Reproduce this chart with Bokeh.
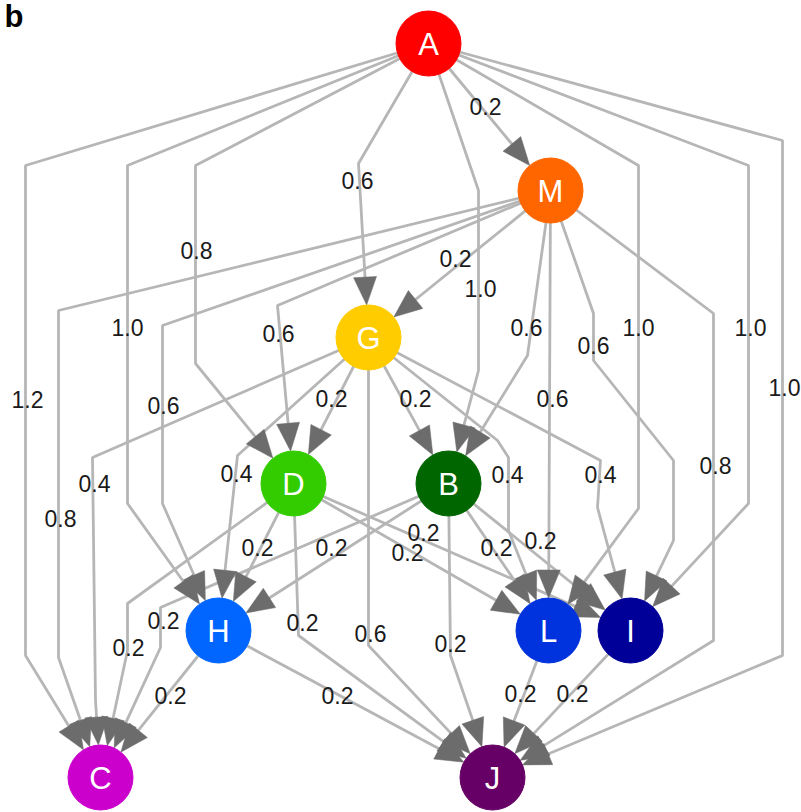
import math

from bokeh.core.properties import value
from bokeh.embed import file_html
from bokeh.models import ColumnDataSource, Range1d
from bokeh.plotting import figure
from bokeh.resources import INLINE

# ---- graph data -------------------------------------------------------------
nodes = ["A", "M", "G", "D", "B", "H", "L", "I", "C", "J"]
node_colors = ["#ff0000", "#ff6600", "#ffcc00", "#33cc00", "#006600",
               "#0066ff", "#0033dd", "#000099", "#cc00cc", "#660066"]

edge_src = ["A", "A", "A", "A", "A", "A", "A", "A", "A",
            "M", "M", "M", "M", "M", "M", "M", "M",
            "G", "G", "G", "G", "G", "G", "G",
            "D", "D", "D", "D", "D",
            "B", "B", "B", "B", "B",
            "H", "H", "L", "I"]
edge_dst = ["M", "G", "D", "B", "C", "H", "L", "I", "J",
            "G", "C", "H", "D", "B", "L", "I", "J",
            "C", "D", "B", "H", "L", "I", "J",
            "H", "C", "J", "L", "I",
            "H", "C", "J", "L", "I",
            "C", "J", "J", "J"]
edge_weight = [0.2, 0.6, 0.8, 1.0, 1.2, 1.0, 1.0, 1.0, 1.0,
               0.2, 0.8, 0.6, 0.6, 0.6, 0.6, 0.6, 0.8,
               0.4, 0.2, 0.2, 0.4, 0.4, 0.4, 0.6,
               0.2, 0.2, 0.2, 0.2, 0.2,
               0.2, 0.2, 0.2, 0.2, 0.2,
               0.2, 0.2, 0.2, 0.2]

# ---- layout (screen-like units, y grows downward) ---------------------------
node_x = [428, 550, 368, 293, 448, 218, 548, 630, 100, 492]
node_y = [43, 190, 337, 483, 483, 630, 630, 630, 777, 777]
NODE_R = 32.5

edge_bends = {
    ("A", "G"): [(358, 163)],
    ("A", "C"): [(25, 165), (25, 655)],
    ("A", "H"): [(127, 165), (127, 503)],
    ("A", "D"): [(195, 165), (195, 363)],
    ("A", "B"): [(478, 190), (478, 370)],
    ("A", "L"): [(638, 165), (638, 508)],
    ("A", "I"): [(748, 165), (748, 503)],
    ("A", "J"): [(782, 140), (782, 655)],
    ("M", "C"): [(58, 310), (58, 657)],
    ("M", "H"): [(162, 325), (162, 503)],
    ("M", "D"): [(277, 305)],
    ("M", "B"): [(527, 355)],
    ("M", "I"): [(593, 313), (593, 360), (673, 460), (673, 540)],
    ("M", "J"): [(713, 313), (713, 640)],
    ("G", "C"): [(92, 457), (95, 700)],
    ("G", "H"): [(237, 455)],
    ("G", "L"): [(497, 440), (508, 457), (508, 530)],
    ("G", "I"): [(600, 460), (597, 507)],
    ("G", "J"): [(368, 645)],
    ("D", "C"): [(127, 603), (127, 650)],
    ("D", "J"): [(298, 635)],
    ("B", "C"): [(160, 607), (160, 647)],
    ("B", "J"): [(450, 655)],
}

label_pos = {
    ("A", "M"): (485, 106), ("A", "G"): (357, 180), ("A", "D"): (196, 250),
    ("M", "G"): (455, 258), ("A", "B"): (480, 288), ("A", "C"): (27, 399),
    ("A", "H"): (127, 327), ("M", "D"): (278, 333), ("M", "B"): (526, 327),
    ("A", "L"): (638, 327), ("A", "I"): (750, 327), ("M", "I"): (593, 345),
    ("A", "J"): (784, 387), ("M", "H"): (163, 405), ("M", "L"): (552, 398),
    ("G", "D"): (331, 398), ("G", "B"): (415, 398), ("G", "C"): (94, 483),
    ("M", "C"): (60, 518), ("G", "H"): (236, 473), ("G", "L"): (507, 474),
    ("G", "I"): (600, 474), ("M", "J"): (715, 465), ("D", "H"): (257, 547),
    ("B", "H"): (331, 547), ("D", "I"): (423, 532), ("D", "L"): (407, 552),
    ("B", "L"): (496, 547), ("B", "I"): (540, 540), ("B", "C"): (163, 620),
    ("D", "C"): (128, 647), ("H", "C"): (170, 695), ("D", "J"): (302, 622),
    ("G", "J"): (370, 633), ("H", "J"): (337, 695), ("B", "J"): (450, 643),
    ("L", "J"): (520, 693), ("I", "J"): (572, 693),
}

HEAD_LEN = 28
HEAD_HALF_W = 11.5

pos = {n: (x, y) for n, x, y in zip(nodes, node_x, node_y)}

line_xs, line_ys = [], []
head_xs, head_ys = [], []
lab_x, lab_y, lab_t = [], [], []

for s, t, w in zip(edge_src, edge_dst, edge_weight):
    sx, sy = pos[s]
    tx, ty = pos[t]
    bends = edge_bends.get((s, t), [])
    px, py = bends[-1] if bends else (sx, sy)
    dx, dy = tx - px, ty - py
    d = math.hypot(dx, dy)
    ux, uy = dx / d, dy / d
    tipx, tipy = tx - NODE_R * ux, ty - NODE_R * uy
    bx, by = tipx - HEAD_LEN * ux, tipy - HEAD_LEN * uy
    nx, ny = -uy, ux
    head_xs.append([tipx, bx + HEAD_HALF_W * nx, bx - HEAD_HALF_W * nx])
    head_ys.append([tipy, by + HEAD_HALF_W * ny, by - HEAD_HALF_W * ny])

    pts = [(sx, sy)] + bends + [(bx + 2 * ux, by + 2 * uy)]
    line_xs.append([p[0] for p in pts])
    line_ys.append([p[1] for p in pts])

    lx, ly = label_pos[(s, t)]
    lab_x.append(lx)
    lab_y.append(ly)
    lab_t.append(f"{w:.1f}")

W, H = 801, 812
p = figure(width=W, height=H, x_range=Range1d(0, W), y_range=Range1d(H, 0),
           x_axis_location=None, y_axis_location=None,
           toolbar_location=None, output_backend="svg", min_border=0)
p.outline_line_color = None
p.xgrid.grid_line_color = None
p.ygrid.grid_line_color = None
p.background_fill_color = "white"

p.multi_line(xs=line_xs, ys=line_ys, line_color="#b6b6b6", line_width=2.8)
p.patches(xs=head_xs, ys=head_ys, fill_color="#6c6c6c", line_color="#6c6c6c",
          line_width=0.5)

node_src = ColumnDataSource(dict(x=node_x, y=node_y, name=nodes, color=node_colors))
p.circle(x="x", y="y", radius=NODE_R, fill_color="color", line_color="color",
         source=node_src)
p.text(x="x", y="y", text="name", source=node_src, text_color="white",
       text_font=value("Liberation Sans"), text_font_size="31px",
       text_align="center", text_baseline="middle", y_offset=1)

p.text(x=lab_x, y=lab_y, text=lab_t, text_color="#1a1a1a",
       text_font=value("Liberation Sans"), text_font_size="23px",
       text_align="center", text_baseline="middle")

p.text(x=[4], y=[-2], text=["b"], text_color="black",
       text_font=value("Liberation Sans"), text_font_size="31px",
       text_font_style="bold", text_align="left", text_baseline="top")

open("out.html", "w").write(file_html(p, INLINE))
